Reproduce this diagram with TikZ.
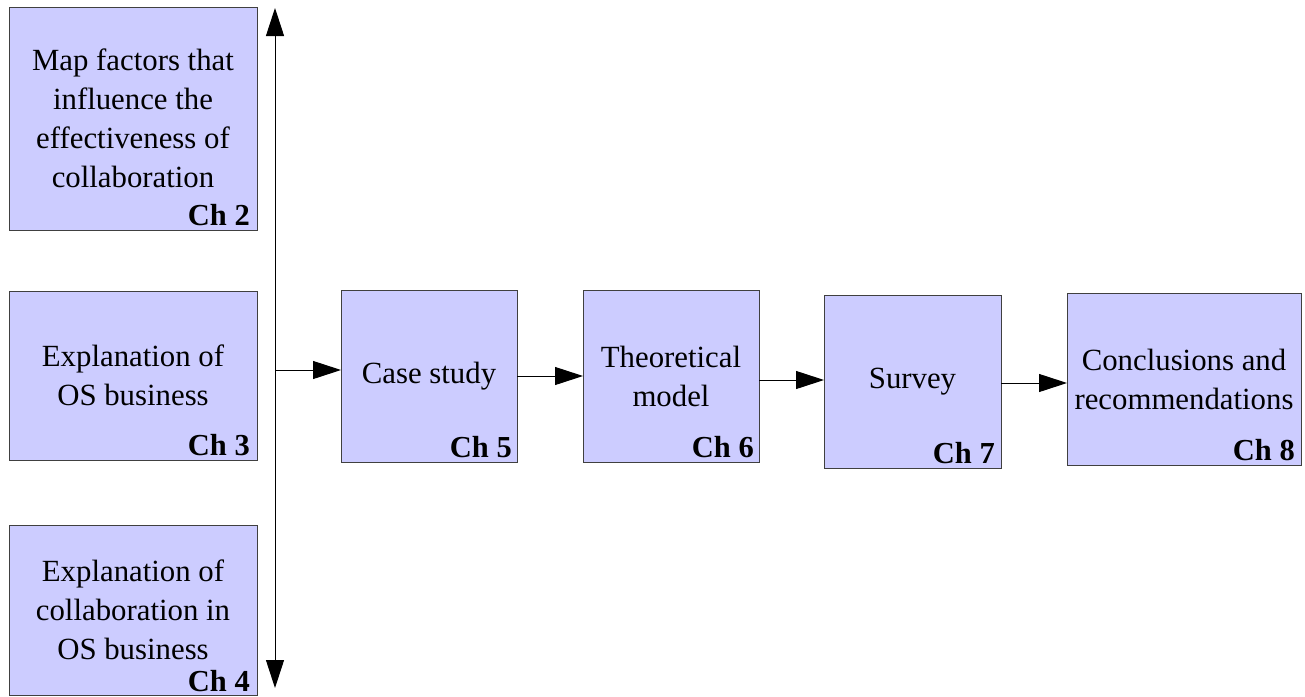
\documentclass[tikz,border=0pt]{standalone}
\usepackage{fontspec}
\setmainfont{Liberation Serif}
\usetikzlibrary{arrows.meta,calc}
\definecolor{boxfill}{HTML}{CCCCFF}
\definecolor{boxline}{HTML}{404040}
\begin{document}
\begin{tikzpicture}[x=1pt,y=-1pt,
  box/.style={draw=boxline,fill=boxfill,line width=1pt,inner sep=0pt,outer sep=0pt},
  txt/.style={inner sep=0pt,align=center,font=\fontsize{30.8}{39}\selectfont},
  chlabel/.style={inner sep=0pt,anchor=base east,font=\fontsize{30.5}{34}\selectfont\bfseries},
  arr/.style={line width=1pt,-{Triangle[length=28pt,width=18pt]}},
  biarr/.style={line width=1pt,{Triangle[length=28pt,width=18pt]}-{Triangle[length=28pt,width=18pt]}}]
\useasboundingbox (0,0) rectangle (1305,696);
\fill[white] (0,0) rectangle (1305,696);

% chapter boxes
\node[box,minimum width=248pt,minimum height=223pt] (c2) at (133,118.5) {};
\node[box,minimum width=248pt,minimum height=169pt] (c3) at (133,375.5) {};
\node[box,minimum width=248pt,minimum height=170pt] (c4) at (133,610) {};
\node[box,minimum width=176pt,minimum height=172pt] (c5) at (429,376) {};
\node[box,minimum width=176pt,minimum height=172pt] (c6) at (671,376) {};
\node[box,minimum width=177pt,minimum height=173pt] (c7) at (912.5,381.5) {};
\node[box,minimum width=234pt,minimum height=172pt] (c8) at (1184,379) {};

% box texts
\node[txt] (t2) at (c2.center) {Map factors that\\influence the\\effectiveness of\\collaboration};
\node[txt] (t3) at (c3.center) {Explanation of\\OS business};
\node[txt] (t4) at (c4.center) {Explanation of\\collaboration in\\OS business};
\node[txt] (t5) at (c5.center) {Case study};
\node[txt] (t6) at (c6.center) {Theoretical\\model};
\node[txt] (t7) at (c7.center) {Survey};
\node[txt] (t8) at (c8.center) {Conclusions and\\recommendations};

% chapter numbers
\node[chlabel] (l2) at ($(c2.south east)+(-7,-5)$) {Ch 2};
\node[chlabel] (l3) at ($(c3.south east)+(-7,-5)$) {Ch 3};
\node[chlabel] (l4) at ($(c4.south east)+(-7,-4)$) {Ch 4};
\node[chlabel] (l5) at ($(c5.south east)+(-5,-5)$) {Ch 5};
\node[chlabel] (l6) at ($(c6.south east)+(-5,-5)$) {Ch 6};
\node[chlabel] (l7) at ($(c7.south east)+(-6,-5)$) {Ch 7};
\node[chlabel] (l8) at ($(c8.south east)+(-6,-5)$) {Ch 8};

% spine and flow
\coordinate (top) at (275,8);
\coordinate (bot) at (275,688);
\coordinate (j) at (275,370);
\coordinate (a67) at (0,380);
\coordinate (a78) at (0,383);
\draw[biarr] (top) -- (bot);
\draw[arr] (j) -- (j -| c5.west);
\draw[arr] (c5.east) -- (c6.west);
\draw[arr] (c6.east |- a67) -- (c7.west |- a67);
\draw[arr] (c7.east |- a78) -- (c8.west |- a78);
\end{tikzpicture}
\end{document}
